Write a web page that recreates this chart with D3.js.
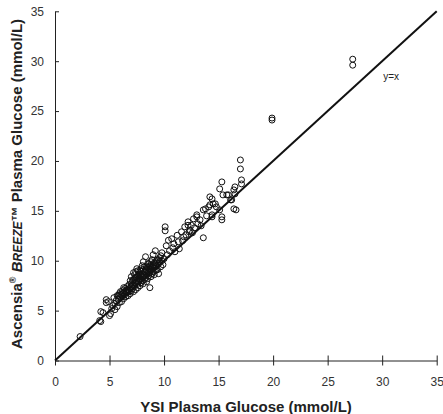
<!DOCTYPE html>
<html>
<head>
<meta charset="utf-8">
<script src="https://d3js.org/d3.v7.min.js"></script>
<style>
  body { margin: 0; background: #fff; }
  text { font-family: "Liberation Sans", Arial, sans-serif; fill: #222; }
  .axis path, .axis line { stroke: #222; stroke-width: 1; }
  .axis text { font-size: 12px; fill: #333; }
</style>
</head>
<body>
<script>
// YSI reference values (x) and meter readings (y), mmol/L
var ysi = [2.3, 4.1, 4.2, 4.2, 4.4, 4.7, 4.7, 4.9, 5.0, 5.1, 5.2, 5.3, 5.4, 5.5, 5.5,
  5.6, 5.7, 5.7, 5.8, 5.9, 5.9, 6.0, 6.0, 6.1, 6.1, 6.2, 6.2, 6.3, 6.3, 6.4, 6.4, 6.5, 6.5,
  6.6, 6.6, 6.7, 6.7, 6.8, 6.8, 6.9, 6.9, 7.0, 7.0, 7.0,
  7.1, 7.1, 7.2, 7.2, 7.2, 7.3, 7.3, 7.4, 7.4, 7.4, 7.5, 7.5, 7.5, 7.6, 7.6, 7.7, 7.7,
  7.8, 7.8, 7.8, 7.9, 7.9, 8.0, 8.0, 8.0, 8.1, 8.1, 8.1, 8.2, 8.2, 8.3, 8.3, 8.3,
  8.4, 8.4, 8.4, 8.5, 8.5, 8.5, 8.6, 8.6, 8.7, 8.7, 8.7, 8.8, 8.8, 8.8, 8.9, 8.9,
  9.0, 9.0, 9.0, 9.1, 9.1, 9.2, 9.2, 9.2, 9.3, 9.4, 9.4, 9.5, 9.5, 9.6, 9.7, 9.8, 9.8, 9.9, 10.0,
  5.8, 6.0, 6.2, 6.3, 6.5, 6.6, 6.8, 6.9, 7.0, 7.1, 7.2, 7.3, 7.3, 7.4, 7.5, 7.6, 7.6, 7.7,
  7.8, 7.9, 8.0, 8.1, 8.2, 8.2, 8.3, 8.4, 8.5, 8.6, 8.6, 8.7, 8.8, 8.9, 9.0, 9.1, 9.2, 9.3,
  9.3, 9.5, 9.6, 9.7,
  10.1, 10.1, 10.2, 10.3, 10.4, 10.5, 10.7, 10.8, 10.9, 11.0, 11.2, 11.3, 11.4, 11.6, 11.7,
  11.8, 11.9, 12.0, 12.2, 12.2, 12.3, 12.4, 12.5, 12.6, 12.7, 12.8, 13.0, 13.0, 13.1, 13.3, 13.4,
  13.6, 13.6, 13.8, 13.9, 14.1, 14.2, 14.2, 14.4, 14.4, 14.4, 14.5, 14.7, 14.8, 15.1, 15.1,
  15.3, 15.3, 15.3, 15.4, 15.75, 15.9, 16.1, 16.2, 16.4, 16.4, 16.5, 16.5, 16.6,
  17.0, 17.0, 17.1, 17.1, 19.9, 19.9, 27.3, 27.3];
var breeze = [2.4, 4.0, 3.9, 4.9, 4.8, 5.8, 6.1, 5.9, 4.5, 4.7, 5.2, 5.5, 6.3, 5.1, 5.7,
  6.0, 5.4, 6.5, 6.1, 5.8, 6.7, 6.3, 6.9, 5.9, 6.6, 6.4, 7.0, 6.2, 6.8, 6.6, 7.2, 6.4, 7.0,
  6.8, 7.4, 6.5, 7.1, 6.9, 7.6, 6.7, 7.3, 7.0, 7.7, 8.4,
  7.2, 8.0, 6.9, 7.5, 8.8, 7.4, 8.2, 7.1, 7.8, 8.9, 7.6, 8.3, 9.2, 7.3, 8.0, 7.9, 8.6,
  7.5, 8.2, 9.0, 7.8, 8.5, 8.0, 8.7, 9.5, 7.7, 8.4, 9.9, 8.1, 8.9, 8.3, 9.1, 10.4,
  7.9, 8.6, 9.4, 8.2, 8.9, 9.7, 8.5, 9.2, 7.3, 8.8, 9.5, 8.4, 9.1, 9.9, 8.7, 9.4,
  8.9, 9.6, 10.6, 8.6, 9.3, 9.0, 9.8, 11.0, 9.5, 9.1, 10.1, 8.7, 9.7, 10.3, 9.4, 10.0, 10.8, 9.6, 10.2,
  6.5, 6.6, 6.7, 7.3, 6.9, 7.1, 7.2, 8.0, 7.4, 7.6, 8.1, 7.8, 8.6, 8.3, 7.9, 8.5, 9.0, 8.2,
  8.6, 9.2, 8.4, 9.1, 8.5, 9.4, 8.8, 9.0, 9.3, 8.9, 9.7, 9.1, 9.5, 10.1, 9.3, 9.8, 9.4, 9.1,
  10.0, 10.1, 9.9, 10.5,
  13.0, 13.4, 11.5, 10.6, 12.05, 11.0, 12.2, 11.3, 11.7, 10.9, 12.55, 11.9, 11.2, 12.9, 12.0,
  12.4, 13.4, 12.6, 13.55, 13.9, 12.9, 13.05, 13.55, 12.8, 14.2, 13.3, 14.6, 14.4, 13.7, 14.1, 13.5,
  12.3, 15.1, 15.2, 14.5, 15.4, 15.6, 16.4, 14.4, 14.6, 16.2, 15.7, 15.7, 15.4, 15.1, 17.2,
  14.1, 14.4, 17.9, 16.6, 16.6, 16.6, 16.1, 16.1, 17.1, 15.2, 17.4, 16.7, 15.1,
  19.2, 20.1, 17.7, 18.1, 24.1, 24.3, 29.6, 30.2];
var ticks = [0, 5, 10, 15, 20, 25, 30, 35];

var points = ysi.map(function(d, i) { return {x: d, y: breeze[i]}; });

var width = 443, height = 414;
var svg = d3.select("body").append("svg")
    .attr("width", width)
    .attr("height", height);

var xScale = d3.scaleLinear().domain([0, 35]).range([55, 436.7]);
var yScale = d3.scaleLinear().domain([0, 35]).range([360.5, 11.3]);

// x axis, ticks cross the line
var xAxis = svg.append("g")
    .attr("class", "axis")
    .attr("transform", "translate(0," + yScale(0) + ")")
    .call(d3.axisBottom(xScale).tickValues(ticks).tickSize(5).tickSizeOuter(0));
xAxis.selectAll(".tick line").attr("y1", -5);
xAxis.selectAll(".tick text").attr("y", 17);

var yAxis = svg.append("g")
    .attr("class", "axis")
    .attr("transform", "translate(" + xScale(0) + ",0)")
    .call(d3.axisLeft(yScale).tickValues(ticks).tickSize(4).tickSizeOuter(0));
yAxis.selectAll(".tick line").attr("x2", 4);
yAxis.selectAll(".tick text").attr("x", -11);

// identity line
svg.append("line")
    .attr("x1", xScale(0)).attr("y1", yScale(0))
    .attr("x2", xScale(35)).attr("y2", yScale(35))
    .attr("stroke", "#111")
    .attr("stroke-width", 2);

svg.append("text")
    .attr("x", xScale(30.1))
    .attr("y", yScale(28.1))
    .style("font-size", "10px")
    .text("y=x");

svg.selectAll("circle")
    .data(points)
    .enter()
    .append("circle")
    .attr("cx", function(d) { return xScale(d.x); })
    .attr("cy", function(d) { return yScale(d.y); })
    .attr("r", 3)
    .attr("fill", "none")
    .attr("stroke", "#111")
    .attr("stroke-width", 1);

// axis titles
svg.append("text")
    .attr("x", 246)
    .attr("y", 412)
    .attr("text-anchor", "middle")
    .style("font-size", "15px")
    .style("font-weight", "bold")
    .text("YSI Plasma Glucose (mmol/L)");

var ylab = svg.append("text")
    .attr("transform", "translate(22,184) rotate(-90)")
    .attr("text-anchor", "middle")
    .style("font-size", "15px")
    .style("font-weight", "bold");
ylab.append("tspan").text("Ascensia");
ylab.append("tspan").attr("dy", -6).style("font-size", "9px").text("®");
ylab.append("tspan").attr("dy", 6).text(" ");
ylab.append("tspan").style("font-style", "italic").text("B");
ylab.append("tspan").style("font-style", "italic").style("font-size", "12px").text("REEZE");
ylab.append("tspan").text("™ Plasma Glucose (mmol/L)");
</script>
</body>
</html>
